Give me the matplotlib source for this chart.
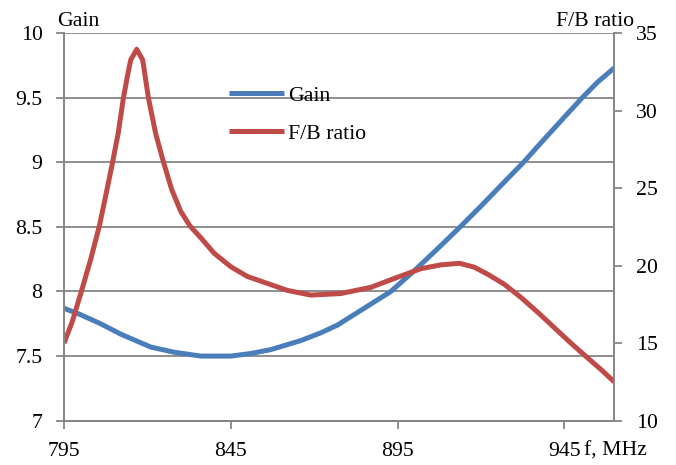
import numpy as np
import matplotlib.pyplot as plt

# values
freq_gain = [795, 800, 806, 812, 821, 828, 836, 845, 851, 857, 866, 872, 877,
             885, 893, 900, 907, 913.8, 920, 926, 932.8, 938, 944, 950.4, 955, 960]
gain = [7.87, 7.82, 7.75, 7.67, 7.57, 7.53, 7.50, 7.50, 7.52, 7.55, 7.62, 7.68, 7.74,
        7.87, 8.00, 8.16, 8.33, 8.50, 8.66, 8.82, 9.00, 9.15, 9.32, 9.50, 9.62, 9.73]

freq_fb = [795, 797.5, 800.3, 803, 805.6, 807.6, 809.6, 811.3, 812.8, 814, 815, 816.8,
           818.6, 820.3, 822.5, 824.8, 827.3, 830, 832.8, 836, 840, 845, 850, 856,
           862, 869, 878, 887, 895, 902, 908, 913.6, 918, 922, 927, 932, 937, 942,
           947, 952, 956, 960]
fb = [15.0, 16.4, 18.4, 20.4, 22.55, 24.6, 26.7, 28.6, 30.8, 32.2, 33.26, 33.95,
      33.26, 30.83, 28.5, 26.7, 24.9, 23.5, 22.55, 21.8, 20.8, 19.93, 19.3, 18.85,
      18.4, 18.1, 18.2, 18.6, 19.25, 19.8, 20.05, 20.15, 19.9, 19.45, 18.8, 17.95,
      17.0, 16.0, 15.0, 14.05, 13.3, 12.5]

gain_ticks = [7, 7.5, 8, 8.5, 9, 9.5, 10]
fb_ticks = [10, 15, 20, 25, 30, 35]
freq_ticks = [795, 845, 895, 945]

plt.rcParams['font.family'] = ['Liberation Serif', 'DejaVu Serif']
plt.rcParams['font.size'] = 15.7

blue = '#4A7EBB'
red = '#BE4B48'
grey = '#868686'

fig = plt.figure(figsize=(6.76, 4.65), dpi=100)
ax = fig.add_axes([64 / 676, 1 - 420.7 / 465, (614.3 - 64) / 676, (420.7 - 33) / 465])
ax2 = ax.twinx()

l1, = ax.plot(freq_gain, gain, color=blue, lw=3.6, solid_capstyle='butt',
              solid_joinstyle='round', label='Gain')
l2, = ax2.plot(freq_fb, fb, color=red, lw=3.6, solid_capstyle='butt',
               solid_joinstyle='round', label='F/B ratio')

ax.set_xlim(795, 960)
ax.set_ylim(7, 10)
ax2.set_ylim(10, 35)
ax.set_xticks(freq_ticks)
ax.set_xticklabels(['795', '845', '895', '945'])
ax.set_yticks(gain_ticks)
ax.set_yticklabels(['7', '7.5', '8', '8.5', '9', '9.5', '10'])
ax2.set_yticks(fb_ticks)

ax.grid(axis='y', color=grey, lw=1.3)
ax.set_axisbelow(True)
for a in (ax, ax2):
    a.spines['top'].set_visible(False)
    for s in ('left', 'right', 'bottom'):
        a.spines[s].set_color(grey)
        a.spines[s].set_linewidth(1.3)
    a.tick_params(color=grey, width=1.3, length=5.5, pad=10)
ax.tick_params(axis='x', pad=10)

# axis captions placed in figure pixels
fig.text(57 / 676, 1 - 26 / 465, 'Gain', ha='left', va='baseline')
fig.text(634 / 676, 1 - 26 / 465, 'F/B ratio', ha='right', va='baseline')
fig.text(584 / 676, 1 - 456 / 465, 'f, MHz', ha='left', va='baseline')

ax2.legend(handles=[l1, l2], loc='upper left', bbox_to_anchor=(0.3, 0.865),
           frameon=False, handlelength=2.5, handletextpad=0.2, labelspacing=0.82,
           borderpad=0, borderaxespad=0)

fig.savefig('out.png', dpi=100)
